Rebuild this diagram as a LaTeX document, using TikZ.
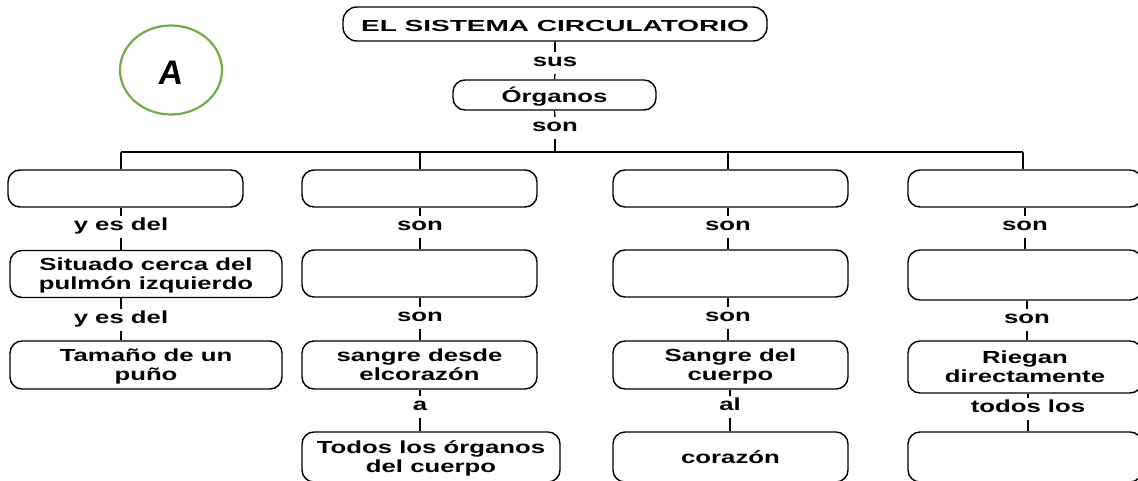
\documentclass[tikz,border=0pt]{standalone}
\usepackage{fontspec}
\setmainfont{Liberation Sans}
\usepackage{graphicx}
\usetikzlibrary{shapes.geometric}
\definecolor{agreen}{RGB}{112,173,71}
\newcommand\tx[1]{\scalebox{1.47}[1]{\begin{tabular}{@{}c@{}}#1\end{tabular}}}
\newcommand\bx[1]{\raisebox{-2.5pt}[\height][\depth]{\tx{#1}}}
\begin{document}
\begin{tikzpicture}[x=1pt,y=-1pt,
  box/.style={draw, line width=1.4pt, rounded corners=12pt, inner sep=0pt,
    font=\fontsize{17.5}{19}\selectfont\bfseries},
  lab/.style={inner sep=0pt, outer sep=3pt, text height=12pt, text depth=3.5pt,
    font=\fontsize{17.5}{19}\selectfont\bfseries},
  con/.style={line width=1.3pt}]
\useasboundingbox (0,0) rectangle (1138,480);

% circle A
\node[draw=agreen, line width=2.2pt, ellipse, minimum width=102pt, minimum height=89pt] (circ) at (171,70) {};
\node[font=\fontsize{34}{36}\selectfont\bfseries, xslant=0.12] (letA) at (171,73) {A};

% top
\node[box, minimum width=424pt, minimum height=34pt, rounded corners=14pt] (title) at (555,24)
  {\raisebox{-2pt}[\height][\depth]{\scalebox{1.75}[1]{\fontsize{16}{18}\selectfont\bfseries EL SISTEMA CIRCULATORIO}}};
\node[lab] (sus) at (555,63) {\tx{sus}};
\node[box, minimum width=203pt, minimum height=30pt] (org) at (554.5,95) {\bx{Órganos}};
\node[lab] (son0) at (555,128) {\tx{son}};
\coordinate (bus) at (555,152);
\coordinate (d1) at (121,152);
\coordinate (d2) at (420,152);
\coordinate (d3) at (728,152);
\coordinate (d4) at (1023,152);
\draw[con] (title.south) -- (sus.north);
\draw[con] (sus.south) -- (org.north);
\draw[con] (org.south) -- (son0.north);
\draw[con] (son0.south) -- (bus);
\draw[con] (d1) -- (d4);

% row 1
\node[box, minimum width=235pt, minimum height=37pt] (b11) at (125.5,188.5) {};
\node[box, minimum width=235pt, minimum height=37pt] (b21) at (419.5,188.5) {};
\node[box, minimum width=235pt, minimum height=37pt] (b31) at (730.5,188.5) {};
\node[box, minimum width=234pt, minimum height=37pt] (b41) at (1025,188.5) {};
\draw[con] (d1) -- (d1 |- b11.north);
\draw[con] (d2) -- (d2 |- b21.north);
\draw[con] (d3) -- (d3 |- b31.north);
\draw[con] (d4) -- (d4 |- b41.north);

% row 2
\node[box, minimum width=272pt, minimum height=47pt] (b12) at (146,274) {\bx{Situado cerca del\\pulmón izquierdo}};
\node[box, minimum width=235pt, minimum height=47pt] (b22) at (419.5,273.5) {};
\node[box, minimum width=235pt, minimum height=47pt] (b32) at (730.5,273.5) {};
\node[box, minimum width=234pt, minimum height=50pt] (b42) at (1025,275) {};

\node[lab] (l11) at (121,227) {\tx{y es del}};
\node[lab] (l21) at (420,227) {\tx{son}};
\node[lab] (l31) at (728,227) {\tx{son}};
\node[lab] (l41) at (1025,227) {\tx{son}};
\draw[con] (l11 |- b11.south) -- (l11.north);
\draw[con] (l11.south) -- (l11 |- b12.north);
\draw[con] (l21 |- b21.south) -- (l21.north);
\draw[con] (l21.south) -- (l21 |- b22.north);
\draw[con] (l31 |- b31.south) -- (l31.north);
\draw[con] (l31.south) -- (l31 |- b32.north);
\draw[con] (l41 |- b41.south) -- (l41.north);
\draw[con] (l41.south) -- (l41 |- b42.north);

% row 3
\node[box, minimum width=272pt, minimum height=48pt] (b13) at (146,365) {\bx{Tamaño de un\\puño}};
\node[box, minimum width=235pt, minimum height=48pt] (b23) at (419.5,365) {\bx{sangre desde\\elcorazón}};
\node[box, minimum width=235pt, minimum height=48pt] (b33) at (730.5,365) {\bx{Sangre del\\cuerpo}};
\node[box, minimum width=234pt, minimum height=52pt] (b43) at (1025,367) {\bx{Riegan\\directamente}};

\node[lab] (l12) at (121,320) {\tx{y es del}};
\node[lab] (l22) at (420,318) {\tx{son}};
\node[lab] (l32) at (728,318) {\tx{son}};
\node[lab] (l42) at (1027,320) {\tx{son}};
\draw[con] (l12 |- b12.south) -- (l12.north);
\draw[con] (l12.south) -- (l12 |- b13.north);
\draw[con] (l22 |- b22.south) -- (l22.north);
\draw[con] (l22.south) -- (l22 |- b23.north);
\draw[con] (l32 |- b32.south) -- (l32.north);
\draw[con] (l32.south) -- (l32 |- b33.north);
\draw[con] (l42 |- b42.south) -- (l42.north);
\draw[con] (l42.south) -- (l42 |- b43.north);

% row 4
\node[box, minimum width=258pt, minimum height=50pt] (b24) at (431,457) {\bx{Todos los órganos\\del cuerpo}};
\node[box, minimum width=235pt, minimum height=50pt] (b34) at (730.5,457) {\bx{corazón}};
\node[box, minimum width=234pt, minimum height=50pt] (b44) at (1025,457) {};

\node[lab] (l23) at (420,407) {\tx{a}};
\node[lab] (l33) at (730,407) {\tx{al}};
\node[lab] (l43) at (1028,409) {\tx{todos los}};
\draw[con] (l23 |- b23.south) -- (l23.north);
\draw[con] (l23.south) -- (l23 |- b24.north);
\draw[con] (l33 |- b33.south) -- (l33.north);
\draw[con] (l33.south) -- (l33 |- b34.north);
\draw[con] (l43 |- b43.south) -- (l43.north);
\draw[con] (l43.south) -- (l43 |- b44.north);
\end{tikzpicture}
\end{document}
